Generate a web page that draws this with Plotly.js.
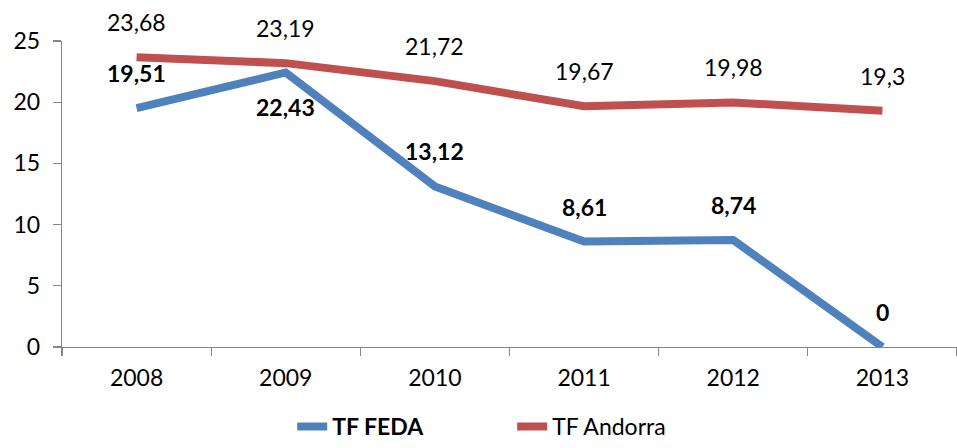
<!DOCTYPE html>
<html>
<head>
<meta charset="utf-8">
<script src="https://cdn.plot.ly/plotly-3.0.1.min.js"></script>
<style>html,body{margin:0;padding:0;background:#fff;}#chart{width:957px;height:448px;}</style>
</head>
<body>
<div id="chart"></div>
<script>
const years = ['2008', '2009', '2010', '2011', '2012', '2013'];
const feda = [19.51, 22.43, 13.12, 8.61, 8.74, 0];
const andorra = [23.68, 23.19, 21.72, 19.67, 19.98, 19.3];
const fedaLabelSide = [1, -1, 1, 1, 1, 1];
const yTicks = [0, 5, 10, 15, 20, 25];

const FONT = 'Lato, "Open Sans", sans-serif';
const fmt = v => String(v).replace('.', ',');

const traces = [
  {x: years, y: feda, type: 'scatter', mode: 'lines', name: '<b>TF FEDA</b>',
   line: {color: '#4F81BD', width: 8}},
  {x: years, y: andorra, type: 'scatter', mode: 'lines', name: 'TF Andorra',
   line: {color: '#C0504D', width: 8}}
];

const annotations = [];
years.forEach((yr, i) => {
  annotations.push({xref: 'x', yref: 'y', x: i, y: feda[i], text: '<b>' + fmt(feda[i]) + '</b>', showarrow: false,
    yshift: 35 * fedaLabelSide[i], font: {family: FONT, size: 23, color: '#000'}});
  annotations.push({xref: 'x', yref: 'y', x: i, y: andorra[i], text: fmt(andorra[i]), showarrow: false,
    yshift: 35, font: {family: FONT, size: 23, color: '#000'}});
});

const layout = {
  width: 957, height: 448,
  margin: {l: 62, r: 0, t: 41, b: 101, autoexpand: false},
  paper_bgcolor: '#fff', plot_bgcolor: '#fff',
  font: {family: FONT, size: 23, color: '#000'},
  showlegend: true,
  legend: {orientation: 'h', x: 0.503, xanchor: 'center', xref: 'paper', y: -0.26, yanchor: 'middle', yref: 'paper',
    font: {family: FONT, size: 23, color: '#000'}, entrywidth: 175, entrywidthmode: 'pixels', tracegroupgap: 0},
  xaxis: {type: 'category', range: [-0.5, 5.5], showgrid: false, zeroline: false,
    showline: true, linecolor: '#868686', linewidth: 1.3,
    ticks: 'outside', tickson: 'boundaries', ticklen: 8, tickcolor: '#868686', tickwidth: 1.3,
    tickfont: {family: FONT, size: 23}, ticklabelstandoff: 10},
  yaxis: {range: [0, 25], tickvals: yTicks, showgrid: false, zeroline: false,
    showline: true, linecolor: '#868686', linewidth: 1.3,
    ticks: 'outside', ticklen: 8, tickcolor: '#868686', tickwidth: 1.3,
    tickfont: {family: FONT, size: 23}, ticklabelstandoff: 8},
  annotations: annotations
};

Plotly.newPlot('chart', traces, layout, {displayModeBar: false, staticPlot: true});
</script>
</body>
</html>
